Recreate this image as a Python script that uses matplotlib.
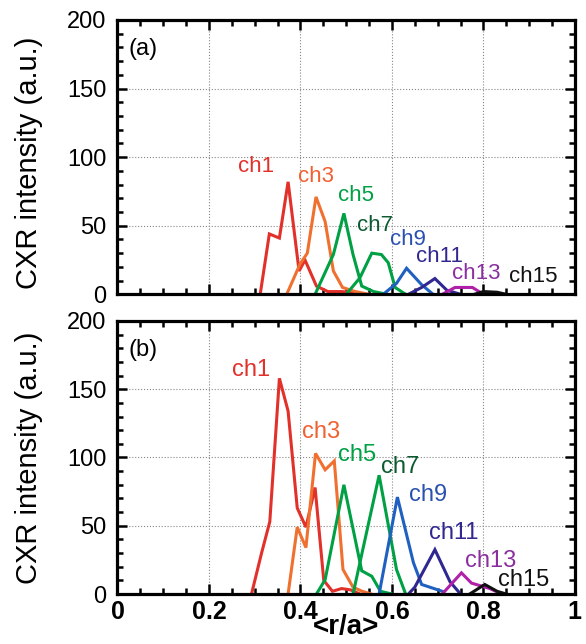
import matplotlib.pyplot as plt
from matplotlib.ticker import MultipleLocator

plt.rcParams['font.family'] = ['Liberation Sans', 'DejaVu Sans']

names = ['ch1', 'ch3', 'ch5', 'ch7', 'ch9', 'ch11', 'ch13', 'ch15']
line_colors = ['#e2302a', '#f07030', '#00a044', '#00a044', '#2060c0', '#302890', '#b020a8', '#111111']
label_colors = ['#e2302a', '#f06030', '#00a044', '#0b5a30', '#2a50b0', '#302890', '#8a2ea0', '#111111']

# panel (a)
xa = [
    [0.312, 0.332, 0.354, 0.373, 0.397, 0.41, 0.435, 0.46, 0.49, 0.52],
    [0.37, 0.399, 0.415, 0.434, 0.454, 0.472, 0.492, 0.52, 0.55],
    [0.432, 0.472, 0.495, 0.515, 0.534, 0.56, 0.59],
    [0.50, 0.53, 0.556, 0.577, 0.592, 0.607, 0.63],
    [0.581, 0.61, 0.632, 0.665, 0.69],
    [0.636, 0.665, 0.694, 0.72, 0.75],
    [0.71, 0.738, 0.776, 0.80],
    [0.78, 0.80, 0.83, 0.85],
]
ya = [
    [0, 44, 41, 82, 17, 25, 6, 2, 2, 1],
    [0, 22, 30, 71, 53, 17, 5, 2, 0],
    [0, 29, 59, 29, 6, 2, 0],
    [0, 12, 30, 29, 23, 5, 0],
    [0, 8, 19, 7, 0],
    [0, 5, 11.5, 3, 0],
    [0, 5, 5, 0],
    [0, 2, 1.5, 0],
]
lab_a = [(0.302, 93), (0.433, 86), (0.522, 72), (0.562, 50), (0.634, 40),
         (0.705, 27.5), (0.785, 15), (0.909, 13)]

# panel (b)
xb = [
    [0.293, 0.315, 0.333, 0.354, 0.373, 0.393, 0.412, 0.432, 0.451, 0.47, 0.49, 0.51, 0.53],
    [0.373, 0.393, 0.412, 0.433, 0.454, 0.474, 0.493, 0.515, 0.535, 0.555],
    [0.435, 0.454, 0.495, 0.534, 0.556, 0.575, 0.6],
    [0.515, 0.572, 0.61, 0.63],
    [0.572, 0.612, 0.647, 0.665, 0.71],
    [0.636, 0.65, 0.694, 0.727, 0.75],
    [0.71, 0.752, 0.774, 0.814, 0.84],
    [0.77, 0.803, 0.83, 0.85],
]
yb = [
    [0, 30, 53, 158, 134, 63, 49, 78, 10, 2, 4, 3, 0],
    [0, 49, 34, 103, 91, 97.5, 18, 5, 2, 0],
    [0, 10.5, 80, 17, 13, 2, 0],
    [0, 87, 18, 0],
    [0, 71, 23, 7, 2],
    [0, 5, 32.5, 9, 0],
    [0, 15.5, 8, 4, 0],
    [0, 7, 2, 0],
]
lab_b = [(0.293, 164), (0.445, 119), (0.524, 101.5), (0.619, 93), (0.679, 72.5),
         (0.736, 44.5), (0.815, 24), (0.889, 10.5)]

fig = plt.figure(figsize=(5.86, 6.44), dpi=100)
ax1 = fig.add_axes([0.2005, 0.543, 0.7805, 0.426])
ax2 = fig.add_axes([0.2005, 0.0776, 0.7805, 0.424])

panels = [(ax1, xa, ya, lab_a, '(a)', 16), (ax2, xb, yb, lab_b, '(b)', 17)]
for ax, xs, ys, labs, tag, fs in panels:
    for i in range(len(names)):
        ax.plot(xs[i], ys[i], color=line_colors[i], lw=2.2, solid_joinstyle='miter')
        ax.text(labs[i][0], labs[i][1], names[i], color=label_colors[i],
                fontsize=fs, ha='center', va='center')
    ax.text(0.025, 179, tag, fontsize=17, ha='left', va='center')
    ax.set_xlim(0, 1)
    ax.set_ylim(0, 200)
    ax.xaxis.set_major_locator(MultipleLocator(0.2))
    ax.xaxis.set_minor_locator(MultipleLocator(0.05))
    ax.yaxis.set_major_locator(MultipleLocator(50))
    ax.yaxis.set_minor_locator(MultipleLocator(10))
    ax.grid(True, which='major', color='#888888', ls=':', lw=0.8)
    ax.tick_params(which='both', direction='in', top=True, right=True, width=1.8)
    ax.tick_params(which='major', length=7)
    ax.tick_params(which='minor', length=4)
    ax.tick_params(axis='y', labelsize=17, pad=8)
    for s in ax.spines.values():
        s.set_linewidth(2.3)
    ax.set_ylabel('CXR intensity (a.u.)', fontsize=21)

ax1.yaxis.set_label_coords(-0.163, 0.48)
ax2.yaxis.set_label_coords(-0.163, 0.5)
ax1.tick_params(axis='x', labelbottom=False)
ax2.set_xticks([0, 0.2, 0.4, 0.6, 0.8, 1])
ax2.set_xticklabels(['0', '0.2', '0.4', '0.6', '0.8', '1'], fontsize=18, fontweight='bold')
ax2.tick_params(axis='x', pad=4)
ax2.set_xlabel('<r/a>', fontsize=20, fontweight='bold', labelpad=-7)

fig.savefig('out.png', dpi=100)
